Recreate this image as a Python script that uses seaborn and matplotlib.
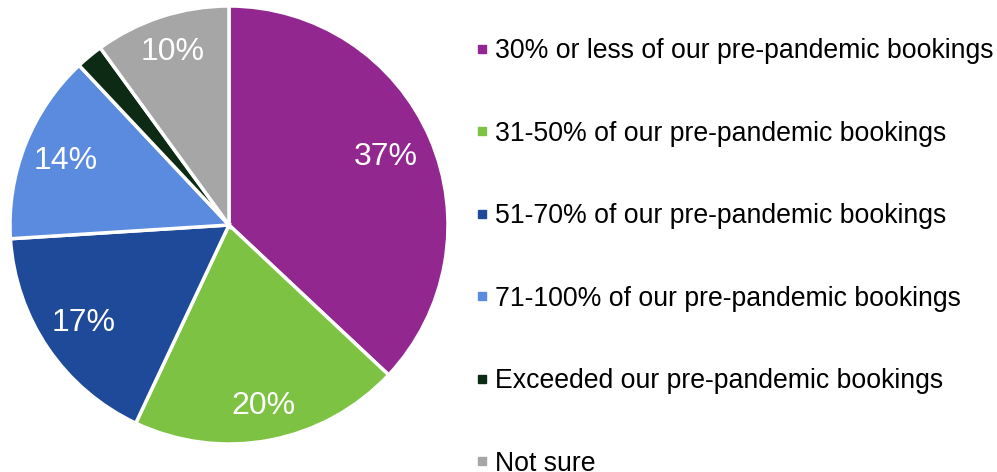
import matplotlib
matplotlib.use('Agg')
import matplotlib.pyplot as plt
from matplotlib.lines import Line2D
import numpy as np
import seaborn as sns

# Datos
categorias = [
    '30% or less of our pre-pandemic bookings',
    '31-50% of our pre-pandemic bookings',
    '51-70% of our pre-pandemic bookings',
    '71-100% of our pre-pandemic bookings',
    'Exceeded our pre-pandemic bookings',
    'Not sure',
]
valores = [37, 20, 17, 14, 2, 10]
etiquetas = ['37%', '20%', '17%', '14%', '', '10%']
colores = ['#92278F', '#7DC242', '#1F4A99', '#5B8BDE', '#0D2A14', '#A6A6A6']

# distancia radial de cada etiqueta (como la coloca Excel)
distancias = [0.78, 0.84, 0.80, 0.80, 0.80, 0.83]

sns.set_style('white')
plt.rcParams['font.family'] = ['Liberation Sans', 'DejaVu Sans']

fig = plt.figure(figsize=(9.97, 4.72), dpi=100)
ax = fig.add_axes([10 / 997, 28 / 472, 438 / 997, 438 / 472])

paleta = sns.color_palette(colores)
wedges, textos = ax.pie(
    valores,
    colors=paleta,
    labels=etiquetas,
    startangle=90,
    counterclock=False,
    wedgeprops={'edgecolor': 'white', 'linewidth': 2.5},
    textprops={'color': 'white', 'fontsize': 23, 'ha': 'center', 'va': 'center'},
)
for w, t, d in zip(wedges, textos, distancias):
    ang = np.deg2rad((w.theta1 + w.theta2) / 2)
    t.set_position((d * np.cos(ang), d * np.sin(ang)))
    t.set_ha('center')
    t.set_va('center')
ax.set_xlim(-1, 1)
ax.set_ylim(-1, 1)
ax.set_aspect('equal')

handles = [Line2D([0], [0], marker='s', linestyle='none', markersize=6,
                  markerfacecolor=c, markeredgecolor=c) for c in colores]
fig.legend(handles, categorias, loc='upper left', bbox_to_anchor=(474 / 997, 1 - 38 / 472),
           frameon=False, fontsize=19.2, handlelength=0.6, handletextpad=0.2,
           labelspacing=2.12, borderaxespad=0, borderpad=0, labelcolor='black')

plt.savefig('out.png', dpi=100)
plt.close()
